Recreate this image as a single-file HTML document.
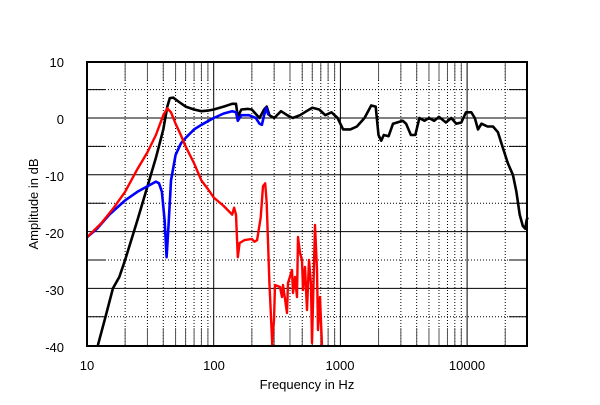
<!DOCTYPE html>
<html><head><meta charset="utf-8"><style>
body{margin:0;background:#fff}
svg{display:block}
text{font-family:"Liberation Sans",Arial,sans-serif;font-size:13px;fill:#000}
</style></head><body>
<svg id="s" width="600" height="405" xmlns="http://www.w3.org/2000/svg">
<g id="grid"></g>
<path id="bk" fill="none" stroke="#000" stroke-width="2.6" stroke-linejoin="round"/>
<path id="bl" fill="none" stroke="#0000ff" stroke-width="2.6" stroke-linejoin="round"/>
<path id="rd" fill="none" stroke="#ff0000" stroke-width="2.4" stroke-linejoin="round"/>
<rect x="87" y="62" width="440" height="284" fill="none" stroke="#000" stroke-width="2"/>
<text x="64" y="67" text-anchor="end">10</text>
<text x="64" y="124" text-anchor="end">0</text>
<text x="64" y="181" text-anchor="end">-10</text>
<text x="64" y="238" text-anchor="end">-20</text>
<text x="64" y="295" text-anchor="end">-30</text>
<text x="64" y="352" text-anchor="end">-40</text>
<text x="87" y="370" text-anchor="middle">10</text>
<text x="214" y="370" text-anchor="middle">100</text>
<text x="340" y="370" text-anchor="middle">1000</text>
<text x="467" y="370" text-anchor="middle">10000</text>
<text x="307" y="389" text-anchor="middle">Frequency in Hz</text>
<text transform="translate(38,204) rotate(-90)" text-anchor="middle">Amplitude in dB</text>
</svg>
<script>
var L=87,R=527,T=62,B=346,D=126.7;
function X(f){return L+D*Math.log10(f/10)}
function Y(d){return 118-5.68*d}
var g='';
for(var dec=10;dec<=10000;dec*=10){for(var m=1;m<10;m++){var f=dec*m;if(f>30000)break;var x=X(f);if(x<=L+1||x>=R-1)continue;
if(m==1){g+='<line x1="'+x+'" y1="'+T+'" x2="'+x+'" y2="'+B+'" stroke="#000" stroke-width="1"/>';}
else{g+='<line x1="'+x+'" y1="'+T+'" x2="'+x+'" y2="'+B+'" stroke="#000" stroke-width="1" stroke-dasharray="1,2"/>';
g+='<line x1="'+x+'" y1="'+T+'" x2="'+x+'" y2="'+(T+18)+'" stroke="#555" stroke-width="1"/>';
g+='<line x1="'+x+'" y1="'+(B-18)+'" x2="'+x+'" y2="'+B+'" stroke="#555" stroke-width="1"/>';}}}
for(var d=-35;d<10;d+=5){var y=Y(d);
if(d%10==0)g+='<line x1="'+L+'" y1="'+y+'" x2="'+R+'" y2="'+y+'" stroke="#000" stroke-width="1"/>';
else{g+='<line x1="'+L+'" y1="'+y+'" x2="'+R+'" y2="'+y+'" stroke="#000" stroke-width="1" stroke-dasharray="1,2"/>';
g+='<line x1="'+L+'" y1="'+y+'" x2="'+(L+18)+'" y2="'+y+'" stroke="#000"/><line x1="'+(R-18)+'" y1="'+y+'" x2="'+R+'" y2="'+y+'" stroke="#000"/>';}}
document.getElementById('grid').innerHTML=g;
function P(a){return a.map(function(p,i){return(i?'L':'M')+X(p[0]).toFixed(1)+' '+Y(p[1]).toFixed(1)}).join(' ')}
var bk=[[12.2,-40],[14,-35],[16,-30],[18,-28],[20,-25],[25,-18],[30,-12],[35,-7],[40,-2],[43,2],[45,3.5],[48,3.6],[52,3],[60,2],[70,1.5],[80,1.2],[90,1.3],[100,1.5],[120,2],[140,2.5],[150,2.5],[155,0.2],[165,1.5],[185,1.6],[200,1.5],[215,0.7],[230,0],[250,1.5],[262,2],[275,0.5],[300,0],[340,1.2],[380,0.5],[420,0],[480,0.5],[540,1.2],[600,1.8],[680,1.5],[760,0.5],[850,1],[950,0],[1050,-2],[1200,-2],[1350,-1.5],[1550,0],[1750,2.2],[1900,2],[2000,-3],[2100,-4],[2200,-3],[2400,-3.2],[2600,-1],[2800,-0.8],[3100,-0.5],[3300,-1],[3600,-3],[3900,-3],[4200,0],[4600,-0.5],[5000,0],[5500,-0.5],[6000,0.2],[6800,-0.8],[7500,0],[8200,-1],[9000,-0.8],[9800,1],[10800,1],[11500,0],[12200,-2],[13000,-1],[14500,-1.5],[16000,-1.5],[17500,-2.5],[19000,-5],[21000,-8],[23000,-10],[24500,-13],[26000,-17],[27500,-19],[28800,-19.5],[29500,-18],[30000,-17.5]];
var bl=[[10,-21],[12,-19.5],[15,-17],[20,-14.5],[25,-13],[30,-12],[35,-11.2],[37,-11.5],[39,-13],[41,-18],[42.5,-24.5],[44,-19],[46,-11],[50,-6.5],[55,-4.5],[60,-3.5],[70,-2],[80,-1.2],[100,0],[120,0.8],[140,1.2],[150,1],[155,-0.5],[165,0.5],[190,0.5],[215,0],[230,-1],[240,-1.2],[250,0.5],[260,1.8],[270,0.5]];
var rd=[[10,-21],[13,-18.5],[16,-16],[20,-13],[25,-9],[30,-6],[35,-3],[40,0.5],[43,1.7],[46,1],[50,-1],[55,-3],[60,-5],[70,-8],[80,-11],[90,-12.5],[100,-14],[120,-15.5],[140,-17],[145,-15.8],[150,-17],[155,-24.5],[160,-22],[175,-21.5],[200,-21.3],[210,-21.8],[220,-21.5],[235,-17.5],[245,-12],[255,-11.5],[262,-15],[275,-29],[290,-40]];
var rp=P(rd);
var seg=[[272,345],[274,320],[275,285],[280,287],[282,297],[283,285],[287,313],[288,283],[292,270],[293,293],[295,277],[297,297],[298,237],[300,253],[302,260],[303,290],[305,267],[307,310],[309,260],[311,285],[312,343],[315,225],[317,270],[318,330],[320,297],[322,346]];
rp+=' M'+seg.map(function(p){return p.join(' ')}).join(' L');
document.getElementById('bk').setAttribute('d',P(bk));
document.getElementById('bl').setAttribute('d',P(bl));
document.getElementById('rd').setAttribute('d',rp);
</script>
</body></html>
